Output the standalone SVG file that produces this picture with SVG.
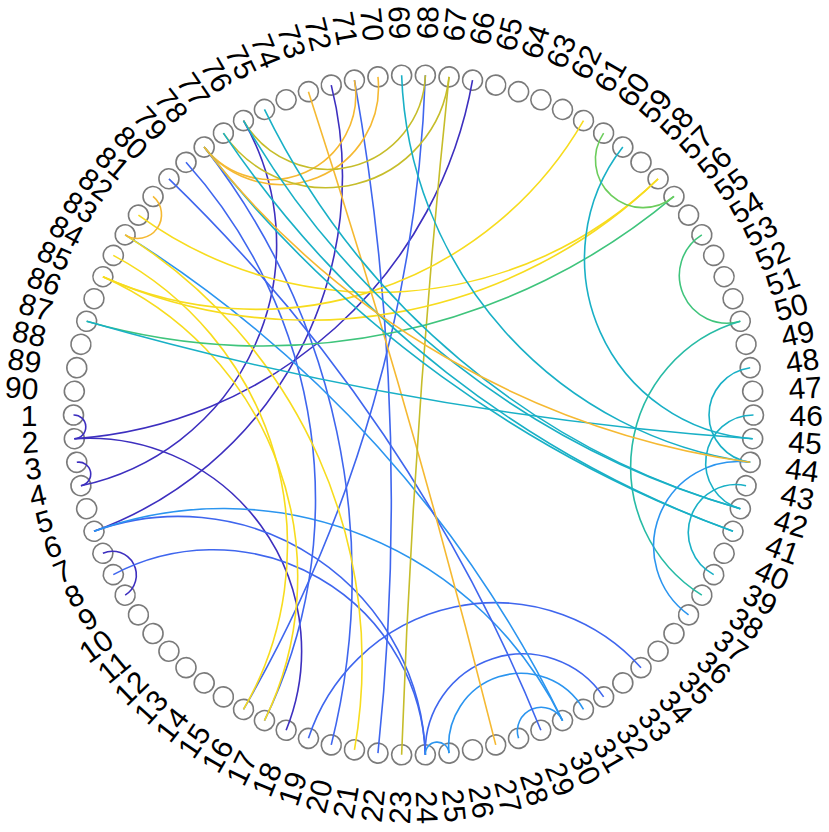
<svg xmlns="http://www.w3.org/2000/svg" width="829" height="832" viewBox="0 0 829 832">
<style>
circle{fill:none;stroke:#7a7a7a;stroke-width:1.6}
text{font-family:"Liberation Sans",Arial,sans-serif;font-size:30px;fill:#000}
.L{text-anchor:end}
#edges path{fill:none;stroke-width:1.6}
.pu{stroke:#3d2fbf}.bl{stroke:#3f66ee}.lb{stroke:#2b95ef}.te{stroke:#19b0c6}.tg{stroke:#27bba5}.gr{stroke:#3fc47c}.lg{stroke:#6ccd5c}.ye{stroke:#f7dc1e}.or{stroke:#f5b932}.ol{stroke:#c6bd2a}
</style>
<rect width="829" height="832" fill="#fff"/>
<g transform="translate(413.5,415)">
<g id="nodes">
<g id="n1" transform="rotate(180)"><circle cx="340" r="10"/><text x="-376" dy="0.36em" class="L" transform="rotate(180)">1</text></g>
<g id="n2" transform="rotate(176)"><circle cx="340" r="10"/><text x="-376" dy="0.36em" class="L" transform="rotate(180)">2</text></g>
<g id="n3" transform="rotate(172)"><circle cx="340" r="10"/><text x="-376" dy="0.36em" class="L" transform="rotate(180)">3</text></g>
<g id="n4" transform="rotate(168)"><circle cx="340" r="10"/><text x="-376" dy="0.36em" class="L" transform="rotate(180)">4</text></g>
<g id="n5" transform="rotate(164)"><circle cx="340" r="10"/><text x="-376" dy="0.36em" class="L" transform="rotate(180)">5</text></g>
<g id="n6" transform="rotate(160)"><circle cx="340" r="10"/><text x="-376" dy="0.36em" class="L" transform="rotate(180)">6</text></g>
<g id="n7" transform="rotate(156)"><circle cx="340" r="10"/><text x="-376" dy="0.36em" class="L" transform="rotate(180)">7</text></g>
<g id="n8" transform="rotate(152)"><circle cx="340" r="10"/><text x="-376" dy="0.36em" class="L" transform="rotate(180)">8</text></g>
<g id="n9" transform="rotate(148)"><circle cx="340" r="10"/><text x="-376" dy="0.36em" class="L" transform="rotate(180)">9</text></g>
<g id="n10" transform="rotate(144)"><circle cx="340" r="10"/><text x="-376" dy="0.36em" class="L" transform="rotate(180)">10</text></g>
<g id="n11" transform="rotate(140)"><circle cx="340" r="10"/><text x="-376" dy="0.36em" class="L" transform="rotate(180)">11</text></g>
<g id="n12" transform="rotate(136)"><circle cx="340" r="10"/><text x="-376" dy="0.36em" class="L" transform="rotate(180)">12</text></g>
<g id="n13" transform="rotate(132)"><circle cx="340" r="10"/><text x="-376" dy="0.36em" class="L" transform="rotate(180)">13</text></g>
<g id="n14" transform="rotate(128)"><circle cx="340" r="10"/><text x="-376" dy="0.36em" class="L" transform="rotate(180)">14</text></g>
<g id="n15" transform="rotate(124)"><circle cx="340" r="10"/><text x="-376" dy="0.36em" class="L" transform="rotate(180)">15</text></g>
<g id="n16" transform="rotate(120)"><circle cx="340" r="10"/><text x="-376" dy="0.36em" class="L" transform="rotate(180)">16</text></g>
<g id="n17" transform="rotate(116)"><circle cx="340" r="10"/><text x="-376" dy="0.36em" class="L" transform="rotate(180)">17</text></g>
<g id="n18" transform="rotate(112)"><circle cx="340" r="10"/><text x="-376" dy="0.36em" class="L" transform="rotate(180)">18</text></g>
<g id="n19" transform="rotate(108)"><circle cx="340" r="10"/><text x="-376" dy="0.36em" class="L" transform="rotate(180)">19</text></g>
<g id="n20" transform="rotate(104)"><circle cx="340" r="10"/><text x="-376" dy="0.36em" class="L" transform="rotate(180)">20</text></g>
<g id="n21" transform="rotate(100)"><circle cx="340" r="10"/><text x="-376" dy="0.36em" class="L" transform="rotate(180)">21</text></g>
<g id="n22" transform="rotate(96)"><circle cx="340" r="10"/><text x="-376" dy="0.36em" class="L" transform="rotate(180)">22</text></g>
<g id="n23" transform="rotate(92)"><circle cx="340" r="10"/><text x="-376" dy="0.36em" class="L" transform="rotate(180)">23</text></g>
<g id="n24" transform="rotate(88)"><circle cx="340" r="10"/><text x="376" dy="0.36em">24</text></g>
<g id="n25" transform="rotate(84)"><circle cx="340" r="10"/><text x="376" dy="0.36em">25</text></g>
<g id="n26" transform="rotate(80)"><circle cx="340" r="10"/><text x="376" dy="0.36em">26</text></g>
<g id="n27" transform="rotate(76)"><circle cx="340" r="10"/><text x="376" dy="0.36em">27</text></g>
<g id="n28" transform="rotate(72)"><circle cx="340" r="10"/><text x="376" dy="0.36em">28</text></g>
<g id="n29" transform="rotate(68)"><circle cx="340" r="10"/><text x="376" dy="0.36em">29</text></g>
<g id="n30" transform="rotate(64)"><circle cx="340" r="10"/><text x="376" dy="0.36em">30</text></g>
<g id="n31" transform="rotate(60)"><circle cx="340" r="10"/><text x="376" dy="0.36em">31</text></g>
<g id="n32" transform="rotate(56)"><circle cx="340" r="10"/><text x="376" dy="0.36em">32</text></g>
<g id="n33" transform="rotate(52)"><circle cx="340" r="10"/><text x="376" dy="0.36em">33</text></g>
<g id="n34" transform="rotate(48)"><circle cx="340" r="10"/><text x="376" dy="0.36em">34</text></g>
<g id="n35" transform="rotate(44)"><circle cx="340" r="10"/><text x="376" dy="0.36em">35</text></g>
<g id="n36" transform="rotate(40)"><circle cx="340" r="10"/><text x="376" dy="0.36em">36</text></g>
<g id="n37" transform="rotate(36)"><circle cx="340" r="10"/><text x="376" dy="0.36em">37</text></g>
<g id="n38" transform="rotate(32)"><circle cx="340" r="10"/><text x="376" dy="0.36em">38</text></g>
<g id="n39" transform="rotate(28)"><circle cx="340" r="10"/><text x="376" dy="0.36em">39</text></g>
<g id="n40" transform="rotate(24)"><circle cx="340" r="10"/><text x="376" dy="0.36em">40</text></g>
<g id="n41" transform="rotate(20)"><circle cx="340" r="10"/><text x="376" dy="0.36em">41</text></g>
<g id="n42" transform="rotate(16)"><circle cx="340" r="10"/><text x="376" dy="0.36em">42</text></g>
<g id="n43" transform="rotate(12)"><circle cx="340" r="10"/><text x="376" dy="0.36em">43</text></g>
<g id="n44" transform="rotate(8)"><circle cx="340" r="10"/><text x="376" dy="0.36em">44</text></g>
<g id="n45" transform="rotate(4)"><circle cx="340" r="10"/><text x="376" dy="0.36em">45</text></g>
<g id="n46" transform="rotate(0)"><circle cx="340" r="10"/><text x="376" dy="0.36em">46</text></g>
<g id="n47" transform="rotate(-4)"><circle cx="340" r="10"/><text x="376" dy="0.36em">47</text></g>
<g id="n48" transform="rotate(-8)"><circle cx="340" r="10"/><text x="376" dy="0.36em">48</text></g>
<g id="n49" transform="rotate(-12)"><circle cx="340" r="10"/><text x="376" dy="0.36em">49</text></g>
<g id="n50" transform="rotate(-16)"><circle cx="340" r="10"/><text x="376" dy="0.36em">50</text></g>
<g id="n51" transform="rotate(-20)"><circle cx="340" r="10"/><text x="376" dy="0.36em">51</text></g>
<g id="n52" transform="rotate(-24)"><circle cx="340" r="10"/><text x="376" dy="0.36em">52</text></g>
<g id="n53" transform="rotate(-28)"><circle cx="340" r="10"/><text x="376" dy="0.36em">53</text></g>
<g id="n54" transform="rotate(-32)"><circle cx="340" r="10"/><text x="376" dy="0.36em">54</text></g>
<g id="n55" transform="rotate(-36)"><circle cx="340" r="10"/><text x="376" dy="0.36em">55</text></g>
<g id="n56" transform="rotate(-40)"><circle cx="340" r="10"/><text x="376" dy="0.36em">56</text></g>
<g id="n57" transform="rotate(-44)"><circle cx="340" r="10"/><text x="376" dy="0.36em">57</text></g>
<g id="n58" transform="rotate(-48)"><circle cx="340" r="10"/><text x="376" dy="0.36em">58</text></g>
<g id="n59" transform="rotate(-52)"><circle cx="340" r="10"/><text x="376" dy="0.36em">59</text></g>
<g id="n60" transform="rotate(-56)"><circle cx="340" r="10"/><text x="376" dy="0.36em">60</text></g>
<g id="n61" transform="rotate(-60)"><circle cx="340" r="10"/><text x="376" dy="0.36em">61</text></g>
<g id="n62" transform="rotate(-64)"><circle cx="340" r="10"/><text x="376" dy="0.36em">62</text></g>
<g id="n63" transform="rotate(-68)"><circle cx="340" r="10"/><text x="376" dy="0.36em">63</text></g>
<g id="n64" transform="rotate(-72)"><circle cx="340" r="10"/><text x="376" dy="0.36em">64</text></g>
<g id="n65" transform="rotate(-76)"><circle cx="340" r="10"/><text x="376" dy="0.36em">65</text></g>
<g id="n66" transform="rotate(-80)"><circle cx="340" r="10"/><text x="376" dy="0.36em">66</text></g>
<g id="n67" transform="rotate(-84)"><circle cx="340" r="10"/><text x="376" dy="0.36em">67</text></g>
<g id="n68" transform="rotate(-88)"><circle cx="340" r="10"/><text x="376" dy="0.36em">68</text></g>
<g id="n69" transform="rotate(-92)"><circle cx="340" r="10"/><text x="-376" dy="0.36em" class="L" transform="rotate(180)">69</text></g>
<g id="n70" transform="rotate(-96)"><circle cx="340" r="10"/><text x="-376" dy="0.36em" class="L" transform="rotate(180)">70</text></g>
<g id="n71" transform="rotate(-100)"><circle cx="340" r="10"/><text x="-376" dy="0.36em" class="L" transform="rotate(180)">71</text></g>
<g id="n72" transform="rotate(-104)"><circle cx="340" r="10"/><text x="-376" dy="0.36em" class="L" transform="rotate(180)">72</text></g>
<g id="n73" transform="rotate(-108)"><circle cx="340" r="10"/><text x="-376" dy="0.36em" class="L" transform="rotate(180)">73</text></g>
<g id="n74" transform="rotate(-112)"><circle cx="340" r="10"/><text x="-376" dy="0.36em" class="L" transform="rotate(180)">74</text></g>
<g id="n75" transform="rotate(-116)"><circle cx="340" r="10"/><text x="-376" dy="0.36em" class="L" transform="rotate(180)">75</text></g>
<g id="n76" transform="rotate(-120)"><circle cx="340" r="10"/><text x="-376" dy="0.36em" class="L" transform="rotate(180)">76</text></g>
<g id="n77" transform="rotate(-124)"><circle cx="340" r="10"/><text x="-376" dy="0.36em" class="L" transform="rotate(180)">77</text></g>
<g id="n78" transform="rotate(-128)"><circle cx="340" r="10"/><text x="-376" dy="0.36em" class="L" transform="rotate(180)">78</text></g>
<g id="n79" transform="rotate(-132)"><circle cx="340" r="10"/><text x="-376" dy="0.36em" class="L" transform="rotate(180)">79</text></g>
<g id="n80" transform="rotate(-136)"><circle cx="340" r="10"/><text x="-376" dy="0.36em" class="L" transform="rotate(180)">80</text></g>
<g id="n81" transform="rotate(-140)"><circle cx="340" r="10"/><text x="-376" dy="0.36em" class="L" transform="rotate(180)">81</text></g>
<g id="n82" transform="rotate(-144)"><circle cx="340" r="10"/><text x="-376" dy="0.36em" class="L" transform="rotate(180)">82</text></g>
<g id="n83" transform="rotate(-148)"><circle cx="340" r="10"/><text x="-376" dy="0.36em" class="L" transform="rotate(180)">83</text></g>
<g id="n84" transform="rotate(-152)"><circle cx="340" r="10"/><text x="-376" dy="0.36em" class="L" transform="rotate(180)">84</text></g>
<g id="n85" transform="rotate(-156)"><circle cx="340" r="10"/><text x="-376" dy="0.36em" class="L" transform="rotate(180)">85</text></g>
<g id="n86" transform="rotate(-160)"><circle cx="340" r="10"/><text x="-376" dy="0.36em" class="L" transform="rotate(180)">86</text></g>
<g id="n87" transform="rotate(-164)"><circle cx="340" r="10"/><text x="-376" dy="0.36em" class="L" transform="rotate(180)">87</text></g>
<g id="n88" transform="rotate(-168)"><circle cx="340" r="10"/><text x="-376" dy="0.36em" class="L" transform="rotate(180)">88</text></g>
<g id="n89" transform="rotate(-172)"><circle cx="340" r="10"/><text x="-376" dy="0.36em" class="L" transform="rotate(180)">89</text></g>
<g id="n90" transform="rotate(-176)"><circle cx="340" r="10"/><text x="-376" dy="0.36em" class="L" transform="rotate(180)">90</text></g>
</g>
<g id="edges">
<path class="pu" transform="rotate(178)" d="M339.79,-11.87A11.87,11.87 0 0 0 339.79,11.87"/>
<path class="pu" transform="rotate(170)" d="M339.79,-11.87A11.87,11.87 0 0 0 339.79,11.87"/>
<path class="pu" transform="rotate(152)" d="M339.17,-23.72A23.78,23.78 0 0 0 339.17,23.72"/>
<path class="pu" transform="rotate(228)" d="M209.32,-267.92A435.18,435.18 0 0 0 209.32,267.92"/>
<path class="pu" transform="rotate(144)" d="M288.34,-180.17A212.46,212.46 0 0 0 288.34,180.17"/>
<path class="pu" transform="rotate(204)" d="M275.07,-199.85A247.02,247.02 0 0 0 275.07,199.85"/>
<path class="pu" transform="rotate(208)" d="M227.5,-252.67A377.61,377.61 0 0 0 227.5,252.67"/>
<path class="bl" transform="rotate(124)" d="M275.07,-199.85A247.02,247.02 0 0 0 275.07,199.85"/>
<path class="bl" transform="rotate(120)" d="M288.34,-180.17A212.46,212.46 0 0 0 288.34,180.17"/>
<path class="lb" transform="rotate(112)" d="M227.5,-252.67A377.61,377.61 0 0 0 227.5,252.67"/>
<path class="bl" transform="rotate(196)" d="M82.25,-329.9A1363.67,1363.67 0 0 0 82.25,329.9"/>
<path class="bl" transform="rotate(172)" d="M190.12,-281.87A504.07,504.07 0 0 0 190.12,281.87"/>
<path class="bl" transform="rotate(168)" d="M149.05,-305.59A697.1,697.1 0 0 0 149.05,305.59"/>
<path class="bl" transform="rotate(178)" d="M47.32,-336.69A2419.23,2419.23 0 0 0 47.32,336.69"/>
<path class="bl" transform="rotate(78)" d="M294.45,-170A196.3,196.3 0 0 0 294.45,170"/>
<path class="bl" transform="rotate(72)" d="M326.83,-93.72A97.49,97.49 0 0 0 326.83,93.72"/>
<path class="lb" transform="rotate(72)" d="M332.57,-70.69A72.27,72.27 0 0 0 332.57,70.69"/>
<path class="lb" transform="rotate(86)" d="M339.79,-11.87A11.87,11.87 0 0 0 339.79,11.87"/>
<path class="lb" transform="rotate(68)" d="M339.17,-23.72A23.78,23.78 0 0 0 339.17,23.72"/>
<path class="lb" transform="rotate(138)" d="M93.72,-326.83A1185.72,1185.72 0 0 0 93.72,326.83"/>
<path class="bl" transform="rotate(146)" d="M70.69,-332.57A1599.57,1599.57 0 0 0 70.69,332.57"/>
<path class="or" transform="rotate(164)" d="M11.87,-339.79A9736.3,9736.3 0 0 0 11.87,339.79"/>
<path class="or" transform="rotate(-112)" d="M326.83,-93.72A97.49,97.49 0 0 0 326.83,93.72"/>
<path class="or" transform="rotate(-114)" d="M329.9,-82.25A84.77,84.77 0 0 0 329.9,82.25"/>
<path class="ol" transform="rotate(-104)" d="M326.83,-93.72A97.49,97.49 0 0 0 326.83,93.72"/>
<path class="ol" transform="rotate(-104)" d="M319.5,-116.29A123.75,123.75 0 0 0 319.5,116.29"/>
<path class="ol" transform="rotate(4)" d="M11.87,-339.79A9736.3,9736.3 0 0 0 11.87,339.79"/>
<path class="ye" transform="rotate(-94)" d="M218.55,-260.46A405.2,405.2 0 0 0 218.55,260.46"/>
<path class="ye" transform="rotate(-108)" d="M227.5,-252.67A377.61,377.61 0 0 0 227.5,252.67"/>
<path class="ye" transform="rotate(-100)" d="M190.12,-281.87A504.07,504.07 0 0 0 190.12,281.87"/>
<path class="ye" transform="rotate(164)" d="M244.57,-236.18A328.33,328.33 0 0 0 244.57,236.18"/>
<path class="ye" transform="rotate(160)" d="M244.57,-236.18A328.33,328.33 0 0 0 244.57,236.18"/>
<path class="ye" transform="rotate(156)" d="M190.12,-281.87A504.07,504.07 0 0 0 190.12,281.87"/>
<path class="or" transform="rotate(-144)" d="M339.17,-23.72A23.78,23.78 0 0 0 339.17,23.72"/>
<path class="gr" transform="rotate(-102)" d="M159.62,-300.2A639.45,639.45 0 0 0 159.62,300.2"/>
<path class="lg" transform="rotate(-48)" d="M336.69,-47.32A47.78,47.78 0 0 0 336.69,47.32"/>
<path class="gr" transform="rotate(-24)" d="M336.69,-47.32A47.78,47.78 0 0 0 336.69,47.32"/>
<path class="te" transform="rotate(-24)" d="M300.2,-159.62A180.78,180.78 0 0 0 300.2,159.62"/>
<path class="tg" transform="rotate(8)" d="M310.61,-138.29A151.38,151.38 0 0 0 310.61,138.29"/>
<path class="lb" transform="rotate(22)" d="M329.9,-82.25A84.77,84.77 0 0 0 329.9,82.25"/>
<path class="te" transform="rotate(20)" d="M336.69,-47.32A47.78,47.78 0 0 0 336.69,47.32"/>
<path class="te" transform="rotate(0)" d="M336.69,-47.32A47.78,47.78 0 0 0 336.69,47.32"/>
<path class="te" transform="rotate(8)" d="M336.69,-47.32A47.78,47.78 0 0 0 336.69,47.32"/>
<path class="te" transform="rotate(-42)" d="M218.55,-260.46A405.2,405.2 0 0 0 218.55,260.46"/>
<path class="te" transform="rotate(-50)" d="M138.29,-310.61A763.65,763.65 0 0 0 138.29,310.61"/>
<path class="te" transform="rotate(-52)" d="M127.37,-315.24A841.53,841.53 0 0 0 127.37,315.24"/>
<path class="te" transform="rotate(-52)" d="M105.07,-323.36A1046.41,1046.41 0 0 0 105.07,323.36"/>
<path class="te" transform="rotate(-54)" d="M93.72,-326.83A1185.72,1185.72 0 0 0 93.72,326.83"/>
<path class="te" transform="rotate(-80)" d="M35.54,-338.14A3234.88,3234.88 0 0 0 35.54,338.14"/>
<path class="or" transform="rotate(-60)" d="M127.37,-315.24A841.53,841.53 0 0 0 127.37,315.24"/>
</g>
</g>
</svg>
